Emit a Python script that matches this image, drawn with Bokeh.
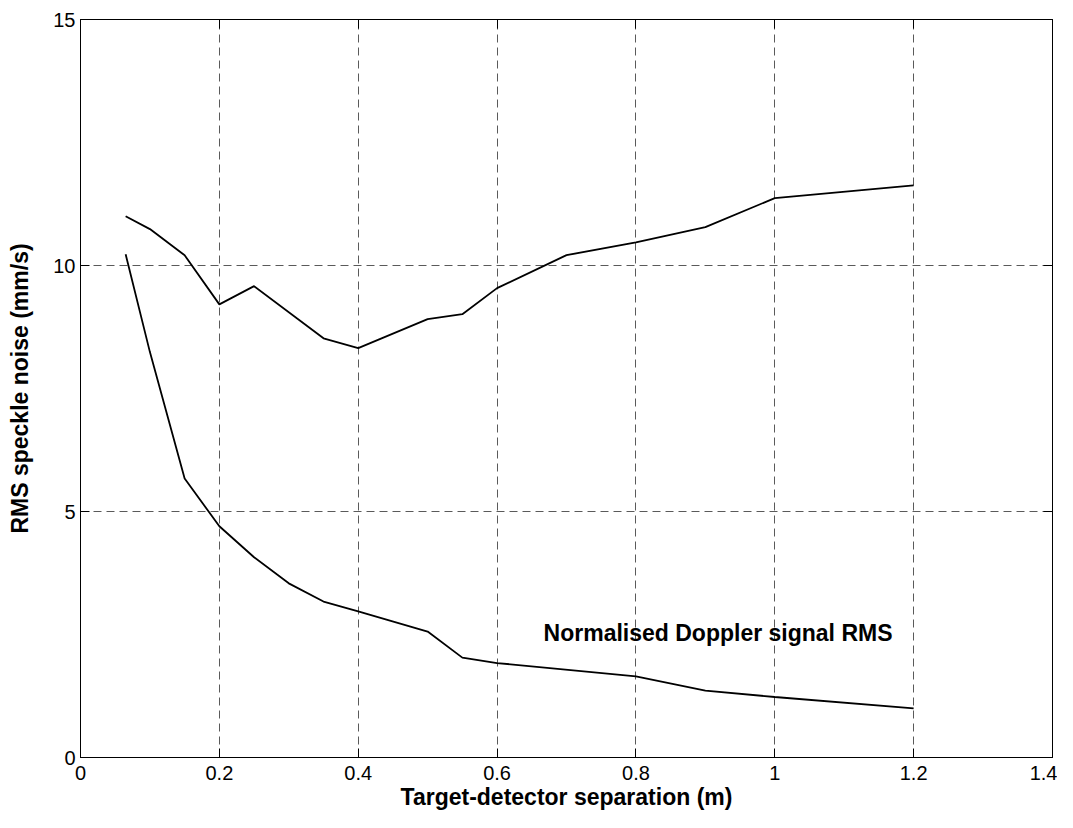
from bokeh.plotting import figure
from bokeh.models import LinearAxis, FixedTicker, Range1d, Label
from bokeh.embed import file_html
from bokeh.resources import INLINE

# ---- data ----
sep_upper = [0.065, 0.1, 0.15, 0.2, 0.25, 0.35, 0.4, 0.5, 0.55, 0.6, 0.7, 0.8, 0.9, 1.0, 1.2]
rms_upper = [11.0, 10.74, 10.21, 9.21, 9.58, 8.52, 8.32, 8.91, 9.01, 9.54, 10.21, 10.47, 10.78, 11.37, 11.63]

sep_lower = [0.065, 0.1, 0.15, 0.2, 0.25, 0.3, 0.35, 0.4, 0.5, 0.55, 0.6, 0.8, 0.9, 1.0, 1.2]
rms_lower = [10.23, 8.24, 5.67, 4.70, 4.07, 3.54, 3.17, 2.97, 2.56, 2.03, 1.92, 1.65, 1.36, 1.23, 1.00]

x_ticks = [0, 0.2, 0.4, 0.6, 0.8, 1.0, 1.2, 1.4]
x_tick_labels = ["0", "0.2", "0.4", "0.6", "0.8", "1", "1.2", "1.4"]
y_ticks = [0, 5, 10, 15]
y_tick_labels = ["0", "5", "10", "15"]

x_label = "Target-detector separation (m)"
y_label = "RMS speckle noise (mm/s)"
annotation = "Normalised Doppler signal RMS"

FONT = "Liberation Sans"

p = figure(width=1057, height=812, output_backend="svg", toolbar_location=None,
           x_range=Range1d(0, 1.4), y_range=Range1d(0, 15),
           min_border_left=80, min_border_right=5, min_border_top=19, min_border_bottom=55,
           x_axis_label=x_label, y_axis_label=y_label)

p.background_fill_color = "white"
p.border_fill_color = "white"
p.outline_line_color = "black"
p.outline_line_width = 1

for ax, ticks, labels in ((p.xaxis[0], x_ticks, x_tick_labels), (p.yaxis[0], y_ticks, y_tick_labels)):
    ax.ticker = FixedTicker(ticks=ticks)
    ax.major_label_overrides = {t: l for t, l in zip(ticks, labels)}
    ax.minor_tick_line_color = None
    ax.major_tick_in = 9
    ax.major_tick_out = 0
    ax.major_tick_line_color = "black"
    ax.axis_line_color = "black"
    ax.major_label_text_font = FONT
    ax.major_label_text_font_size = "20px"
    ax.major_label_text_color = "black"
    ax.axis_label_text_font = FONT
    ax.axis_label_text_font_size = "23px"
    ax.axis_label_text_font_style = "bold"
    ax.axis_label_text_color = "black"

p.xaxis[0].major_label_standoff = 8
p.xaxis[0].axis_label_standoff = 1
p.yaxis[0].major_label_standoff = 5
p.yaxis[0].axis_label_standoff = 17

# box ticks on top and right
for loc, ticks in (("above", x_ticks), ("right", y_ticks)):
    ax = LinearAxis(ticker=FixedTicker(ticks=ticks))
    ax.major_label_text_font_size = "0px"
    ax.major_label_text_alpha = 0
    ax.major_label_standoff = 0
    ax.minor_tick_line_color = None
    ax.major_tick_in = 9
    ax.major_tick_out = 0
    ax.major_tick_line_color = "black"
    ax.axis_line_color = "black"
    p.add_layout(ax, loc)

for g, ticks in ((p.xgrid[0], x_ticks), (p.ygrid[0], y_ticks)):
    g.ticker = FixedTicker(ticks=ticks)
    g.grid_line_color = "#5a5a5a"
    g.grid_line_width = 1
    g.grid_line_dash = "8 5"

p.line(sep_upper, rms_upper, line_color="black", line_width=1.8)
p.line(sep_lower, rms_lower, line_color="black", line_width=1.8)

p.add_layout(Label(x=0.667, y=2.54, text=annotation, text_font=FONT, text_font_size="23px",
                   text_font_style="bold", text_baseline="middle", text_align="left",
                   text_color="black"))

open("out.html", "w").write(file_html(p, INLINE))
